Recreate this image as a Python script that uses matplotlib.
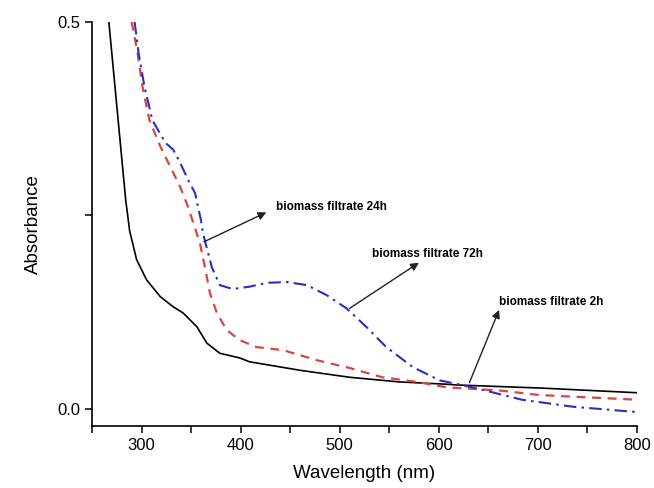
import matplotlib
matplotlib.use("Agg")
import matplotlib.pyplot as plt
from matplotlib.ticker import MultipleLocator

plt.rcParams['font.family'] = ['Liberation Sans', 'DejaVu Sans']

# Black solid: biomass filtrate 2h
wl_2h = [267, 284, 288, 295, 305, 319, 332, 342, 356, 366, 379, 399, 409,
         460, 510, 560, 608, 619, 704, 800]
abs_2h = [0.500, 0.270, 0.230, 0.193, 0.167, 0.145, 0.132, 0.124, 0.106,
          0.085, 0.072, 0.066, 0.061, 0.050, 0.041, 0.035, 0.032, 0.031, 0.027, 0.021]

# Red dashed: biomass filtrate 24h
wl_24h = [290, 296, 301, 308, 319, 329, 339, 347, 359, 364, 369, 376, 386, 399,
          416, 443, 477, 510, 543, 578, 608, 634, 661, 702, 800]
abs_24h = [0.500, 0.460, 0.416, 0.373, 0.339, 0.313, 0.287, 0.261, 0.214, 0.183,
           0.150, 0.124, 0.102, 0.089, 0.080, 0.076, 0.063, 0.053, 0.041, 0.035,
           0.028, 0.026, 0.024, 0.018, 0.012]

# Blue dash-dot: biomass filtrate 72h
wl_72h = [293, 297, 303, 311, 324, 332, 339, 347, 354, 357, 360, 362, 371, 379,
          392, 409, 426, 447, 467, 487, 507, 527, 547, 574, 601, 634, 684, 735, 800]
abs_72h = [0.500, 0.460, 0.416, 0.373, 0.344, 0.335, 0.318, 0.296, 0.279, 0.261,
           0.244, 0.227, 0.183, 0.160, 0.155, 0.158, 0.163, 0.164, 0.160, 0.147,
           0.130, 0.106, 0.080, 0.054, 0.037, 0.028, 0.012, 0.003, -0.004]

labels = ["biomass filtrate 24h", "biomass filtrate 72h", "biomass filtrate 2h"]
arrow_tails = [(363, 0.216), (510, 0.130), (631, 0.034)]
arrow_heads = [(426, 0.254), (580, 0.189), (661, 0.128)]
text_pos = [(436, 0.261), (533, 0.200), (661, 0.138)]

fig = plt.figure(figsize=(6.54, 4.88), dpi=100)
ax = fig.add_axes([0.1407, 0.127, 0.833, 0.828])

ax.plot(wl_2h, abs_2h, color='black', lw=1.2, ls='-')
ax.plot(wl_24h, abs_24h, color='#d8463f', lw=1.6, ls=(0, (4, 3)))
ax.plot(wl_72h, abs_72h, color='#2c2fc0', lw=1.5, ls=(0, (6, 2.5, 1.2, 2.5)))

for lab, tail, head, tp in zip(labels, arrow_tails, arrow_heads, text_pos):
    ax.annotate('', xy=head, xytext=tail,
                arrowprops=dict(arrowstyle='-|>', color='#222222', lw=1.0,
                                mutation_scale=12, shrinkA=0, shrinkB=0))
    ax.text(tp[0], tp[1], lab, fontsize=8.5, fontweight='bold',
            ha='left', va='center', color='black')

ax.set_xlim(250, 800)
ax.set_ylim(-0.022, 0.5)
ax.xaxis.set_major_locator(MultipleLocator(100))
ax.xaxis.set_minor_locator(MultipleLocator(50))
ax.set_yticks([0.0, 0.5])
ax.set_yticklabels(['0.0', '0.5'])
ax.yaxis.set_minor_locator(MultipleLocator(0.25))
ax.tick_params(which='both', direction='out', length=5, width=1.1, labelsize=12)
for s in ['top', 'right']:
    ax.spines[s].set_visible(False)
for s in ['left', 'bottom']:
    ax.spines[s].set_linewidth(1.2)

ax.set_xlabel('Wavelength (nm)', fontsize=13.5, labelpad=9)
ax.set_ylabel('Absorbance', fontsize=13.5, labelpad=11)

fig.savefig('out.png', dpi=100)
